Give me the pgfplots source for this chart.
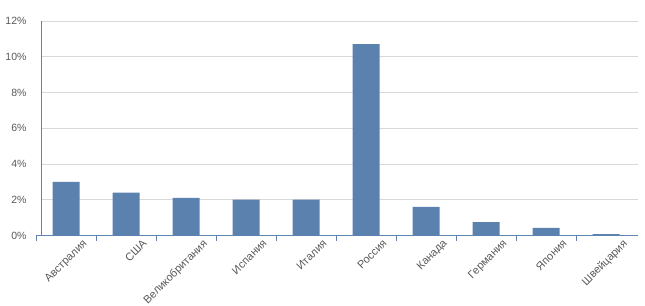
\documentclass[border=0pt]{standalone}
\usepackage{pgfplots}
\pgfplotsset{compat=1.18}
\usepackage{fontspec}
\setmainfont{Liberation Sans}
\definecolor{barblue}{RGB}{91,130,174}
\definecolor{axisblue}{RGB}{96,132,178}
\definecolor{gridgray}{RGB}{217,217,217}
\definecolor{labelgray}{RGB}{89,89,89}
\begin{document}
\begin{tikzpicture}
\useasboundingbox (0,0) rectangle (645bp,306bp);
\begin{axis}[
  at={(41bp,70.5bp)}, anchor=south west,
  scale only axis,
  width=597bp, height=214.5bp,
  xmin=-0.4167, xmax=9.5333,
  ymin=0, ymax=12,
  axis x line*=bottom, axis y line*=left,
  axis line style={axisblue, line width=0.8bp},
  ytick={0,2,4,6,8,10,12},
  yticklabels={0\%,2\%,4\%,6\%,8\%,10\%,12\%},
  ymajorgrids=true,
  grid style={gridgray, line width=0.8bp},
  major tick length=0pt,
  minor tick length=5bp,
  tick align=outside,
  minor tick style={axisblue, line width=0.8bp},
  xtick={0,...,9},
  minor xtick={0.5,1.5,...,8.5},
  xticklabels={Австралия,США,Великобритания,Испания,Италия,Россия,Канада,Германия,Япония,Швейцария},
  tick label style={text=labelgray},
  yticklabel style={font=\fontsize{10.5bp}{12bp}\selectfont, xshift=-11bp},
  xticklabel style={font=\fontsize{11bp}{13bp}\selectfont, xshift=16bp, yshift=-3bp, rotate=45, anchor=north east, inner sep=0pt},
  clip=false,
]
\addplot[ybar, bar width=27bp, fill=barblue, draw=none] coordinates {
  (0,3.0) (1,2.4) (2,2.1) (3,2.0) (4,2.0) (5,10.7) (6,1.6) (7,0.75) (8,0.42) (9,0.08)
};
\draw[axisblue, line width=0.8bp] (axis cs:-0.5,0) -- (axis cs:-0.4167,0);
\draw[axisblue, line width=0.8bp] (axis cs:-0.5,0) -- ([yshift=-5bp]axis cs:-0.5,0);
\end{axis}
\end{tikzpicture}
\end{document}
